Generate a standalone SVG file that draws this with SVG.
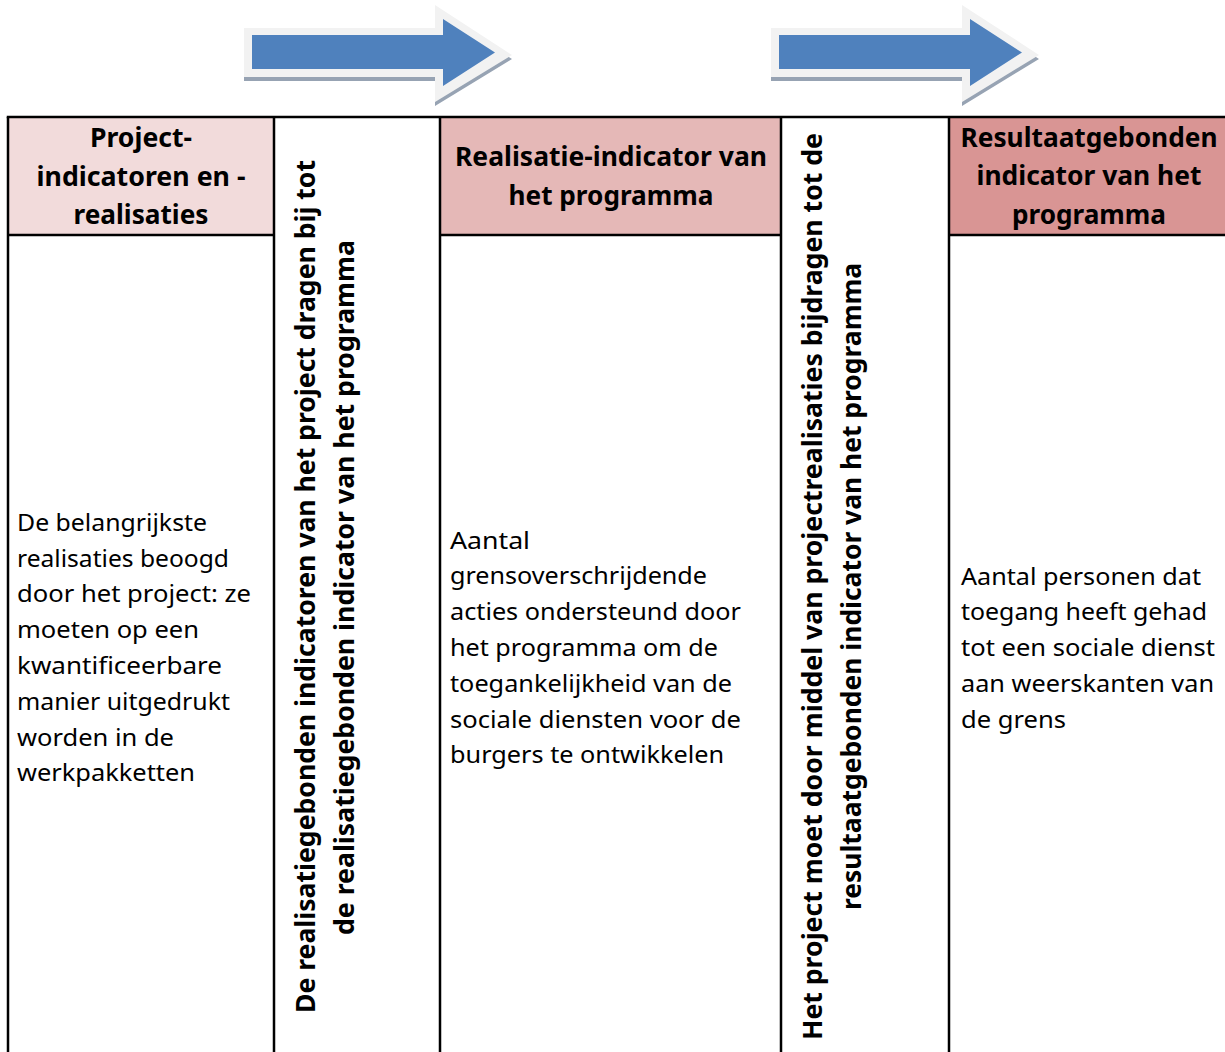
<svg xmlns="http://www.w3.org/2000/svg" width="1225" height="1052" viewBox="0 0 1225 1052">
<style>
.hd{font-family:"Noto Sans","Open Sans",sans-serif;font-weight:bold;font-size:26px;fill:#000;text-anchor:middle}
.bd{font-family:"Noto Sans","Open Sans",sans-serif;font-size:24px;fill:#000}
.vt{font-family:"Noto Sans","Open Sans",sans-serif;font-weight:bold;font-size:26px;fill:#000;text-anchor:middle}
.ln{stroke:#000;stroke-width:2.5;fill:none}
</style>
<defs>
<path id="glow" d="M244,28 H435 V5 L512,55 L435,102 V77 H244 Z"/>
<path id="blue" d="M252,35 H443 V19 L495,52.5 L443,86 V69 H252 Z"/>
<g id="arrowShape">
<use href="#glow" transform="translate(0,4)" fill="#97A3B3"/>
<use href="#glow" fill="#F2F2F2"/>
<use href="#blue" fill="#4F81BD"/>
</g>
</defs>
<rect width="1225" height="1052" fill="#fff"/>
<g id="connectors">
<use href="#arrowShape"/>
<use href="#arrowShape" transform="translate(527,0)"/>
</g>
<g id="col1">
<rect x="8" y="117" width="266" height="118" fill="#F2DBDB"/>
<text class="hd" x="141" y="147" textLength="102" lengthAdjust="spacingAndGlyphs">Project-</text>
<text class="hd" x="141" y="186" textLength="209" lengthAdjust="spacingAndGlyphs">indicatoren en -</text>
<text class="hd" x="141" y="224" textLength="135" lengthAdjust="spacingAndGlyphs">realisaties</text>
<text class="bd" x="17" y="531" textLength="190" lengthAdjust="spacingAndGlyphs">De belangrijkste</text>
<text class="bd" x="17" y="567" textLength="212" lengthAdjust="spacingAndGlyphs">realisaties beoogd</text>
<text class="bd" x="17" y="602" textLength="234" lengthAdjust="spacingAndGlyphs">door het project: ze</text>
<text class="bd" x="17" y="638" textLength="182" lengthAdjust="spacingAndGlyphs">moeten op een</text>
<text class="bd" x="17" y="674" textLength="205" lengthAdjust="spacingAndGlyphs">kwantificeerbare</text>
<text class="bd" x="17" y="710" textLength="213" lengthAdjust="spacingAndGlyphs">manier uitgedrukt</text>
<text class="bd" x="17" y="746" textLength="157" lengthAdjust="spacingAndGlyphs">worden in de</text>
<text class="bd" x="17" y="781" textLength="178" lengthAdjust="spacingAndGlyphs">werkpakketten</text>
</g>
<g id="col2">
<text class="vt" transform="translate(315,586.5) rotate(-90)" textLength="853" lengthAdjust="spacingAndGlyphs">De realisatiegebonden indicatoren van het project dragen bij tot</text>
<text class="vt" transform="translate(354,587.5) rotate(-90)" textLength="695" lengthAdjust="spacingAndGlyphs">de realisatiegebonden indicator van het programma</text>
</g>
<g id="col3">
<rect x="440" y="117" width="341" height="118" fill="#E5B8B7"/>
<text class="hd" x="611" y="166" textLength="312" lengthAdjust="spacingAndGlyphs">Realisatie-indicator van</text>
<text class="hd" x="611" y="205" textLength="205" lengthAdjust="spacingAndGlyphs">het programma</text>
<text class="bd" x="450" y="549" textLength="80" lengthAdjust="spacingAndGlyphs">Aantal</text>
<text class="bd" x="450" y="584" textLength="257" lengthAdjust="spacingAndGlyphs">grensoverschrijdende</text>
<text class="bd" x="450" y="620" textLength="291" lengthAdjust="spacingAndGlyphs">acties ondersteund door</text>
<text class="bd" x="450" y="656" textLength="268" lengthAdjust="spacingAndGlyphs">het programma om de</text>
<text class="bd" x="450" y="692" textLength="282" lengthAdjust="spacingAndGlyphs">toegankelijkheid van de</text>
<text class="bd" x="450" y="728" textLength="291" lengthAdjust="spacingAndGlyphs">sociale diensten voor de</text>
<text class="bd" x="450" y="763" textLength="274" lengthAdjust="spacingAndGlyphs">burgers te ontwikkelen</text>
</g>
<g id="col4">
<text class="vt" transform="translate(822,586.5) rotate(-90)" textLength="907" lengthAdjust="spacingAndGlyphs">Het project moet door middel van projectrealisaties bijdragen tot de</text>
<text class="vt" transform="translate(861,586.5) rotate(-90)" textLength="647" lengthAdjust="spacingAndGlyphs">resultaatgebonden indicator van het programma</text>
</g>
<g id="col5">
<rect x="949" y="117" width="276" height="118" fill="#D99594"/>
<text class="hd" x="1089" y="147" textLength="257" lengthAdjust="spacingAndGlyphs">Resultaatgebonden</text>
<text class="hd" x="1089" y="185" textLength="225" lengthAdjust="spacingAndGlyphs">indicator van het</text>
<text class="hd" x="1089" y="224" textLength="154" lengthAdjust="spacingAndGlyphs">programma</text>
<text class="bd" x="961" y="585" textLength="240" lengthAdjust="spacingAndGlyphs">Aantal personen dat</text>
<text class="bd" x="961" y="620" textLength="246" lengthAdjust="spacingAndGlyphs">toegang heeft gehad</text>
<text class="bd" x="961" y="656" textLength="254" lengthAdjust="spacingAndGlyphs">tot een sociale dienst</text>
<text class="bd" x="961" y="692" textLength="253" lengthAdjust="spacingAndGlyphs">aan weerskanten van</text>
<text class="bd" x="961" y="728" textLength="105" lengthAdjust="spacingAndGlyphs">de grens</text>
</g>
<g id="grid">
<path class="ln" d="M6.75,117 H1225"/>
<path class="ln" d="M8,117 V1052 M274,117 V1052 M440,117 V1052 M781,117 V1052 M949,117 V1052"/>
<path class="ln" d="M8,235 H274 M440,235 H781 M949,235 H1225"/>
</g>
</svg>
